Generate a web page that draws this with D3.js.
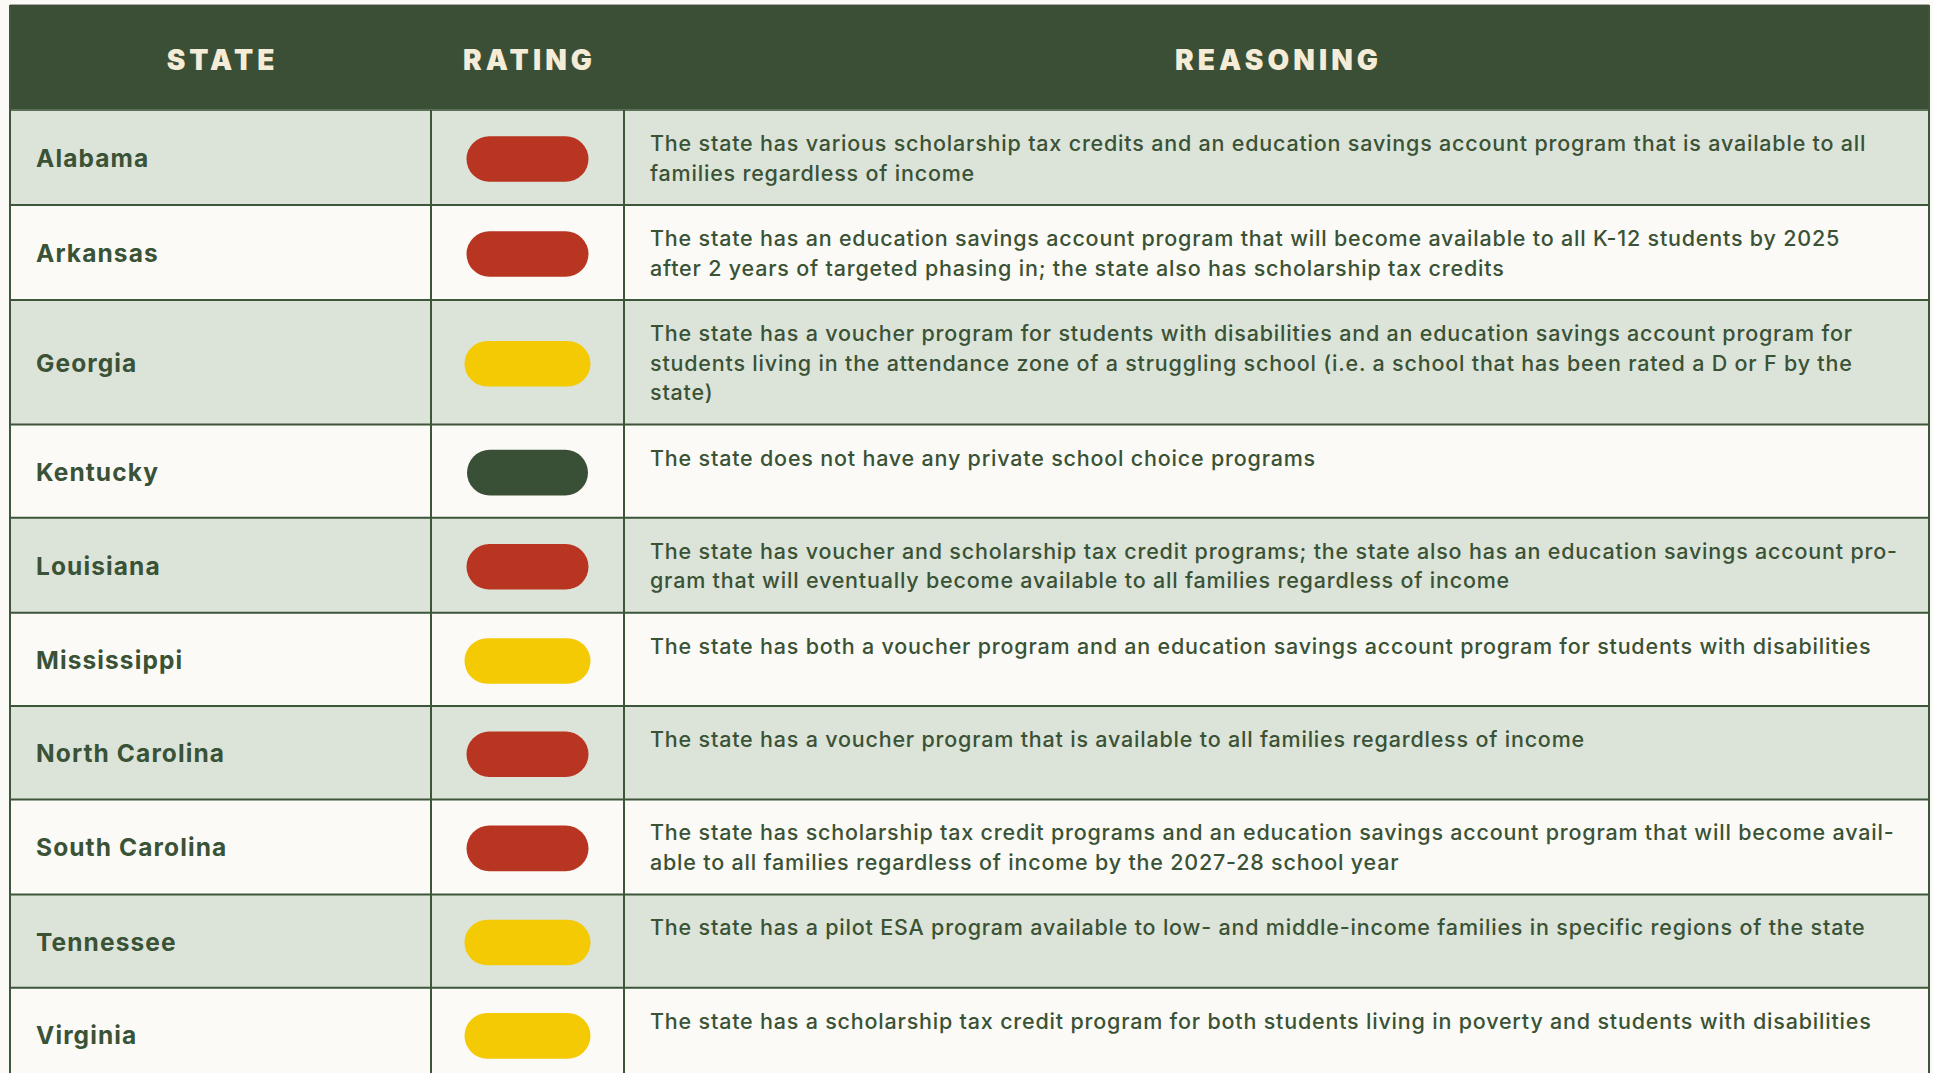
<!DOCTYPE html>
<html>
<head>
<meta charset="utf-8">
<script src="https://cdn.jsdelivr.net/npm/d3@7/dist/d3.min.js"></script>
<style>
  html, body { margin: 0; padding: 0; background: #fbfaf6; overflow: hidden; }
  svg { display: block; }
</style>
</head>
<body>
<svg id="chart" width="1933" height="1073"></svg>
<script>
// ---------- DATA ----------
const headers = ["STATE", "RATING", "REASONING"];
const states = ["Alabama", "Arkansas", "Georgia", "Kentucky", "Louisiana", "Mississippi",
  "North Carolina", "South Carolina", "Tennessee", "Virginia"];
const ratings = ["red", "red", "yellow", "green", "red", "yellow", "red", "red", "yellow", "yellow"];
const reasoning = [
  ["The state has various scholarship tax credits and an education savings account program that is available to all",
   "families regardless of income"],
  ["The state has an education savings account program that will become available to all K-12 students by 2025",
   "after 2 years of targeted phasing in; the state also has scholarship tax credits"],
  ["The state has a voucher program for students with disabilities and an education savings account program for",
   "students living in the attendance zone of a struggling school (i.e. a school that has been rated a D or F by the",
   "state)"],
  ["The state does not have any private school choice programs"],
  ["The state has voucher and scholarship tax credit programs; the state also has an education savings account pro-",
   "gram that will eventually become available to all families regardless of income"],
  ["The state has both a voucher program and an education savings account program for students with disabilities"],
  ["The state has a voucher program that is available to all families regardless of income"],
  ["The state has scholarship tax credit programs and an education savings account program that will become avail-",
   "able to all families regardless of income by the 2027-28 school year"],
  ["The state has a pilot ESA program available to low- and middle-income families in specific regions of the state"],
  ["The state has a scholarship tax credit program for both students living in poverty and students with disabilities"]
];
const ratingLevels = ["red", "yellow", "green"];

// ---------- STYLE ----------
const C = {
  bg: "#fbfaf6", header: "#3a4f35", headerText: "#f5ecd8",
  alt: "#dce3d9", text: "#3a5235", grid: "#3d563a"
};
const pillColor = d3.scaleOrdinal().domain(ratingLevels).range(["#b83522", "#f3ca04", "#3a5036"]);
const pillWidth = d3.scaleOrdinal().domain(ratingLevels).range([122, 126, 121]);

const svg = d3.select("#chart");
const W = 1933, H = 1073;
const left = 10, right = 1929;
const colEdges = [left, 431, 624, right];
const headerTop = 5, headerBottom = 110;
const lineH = 29.5;

// row layout
const rows = states.map((s, i) => ({ state: s, rating: ratings[i], lines: reasoning[i], i }));
let y0 = headerBottom;
rows.forEach(r => {
  r.h = Math.max(93.3, 36 + lineH * r.lines.length);
  r.y = y0; y0 += r.h;
});

svg.append("rect").attr("width", W).attr("height", H).attr("fill", C.bg);

// top hairline
svg.append("line").attr("x1", left).attr("x2", right).attr("y1", 4.5).attr("y2", 4.5)
  .attr("stroke", "#a9aca2").attr("stroke-width", 1);

// header
svg.append("rect").attr("x", left).attr("y", headerTop).attr("width", right - left)
  .attr("height", headerBottom - headerTop).attr("fill", C.header);

const hdrLS = 4.1;
svg.selectAll("text.hdr").data(headers).join("text")
  .attr("class", "hdr")
  .attr("x", (d, i) => (colEdges[i] + colEdges[i + 1]) / 2 + hdrLS / 2)
  .attr("y", 69.5)
  .attr("text-anchor", "middle")
  .attr("fill", C.headerText)
  .style("font-family", "Inter, 'Open Sans', sans-serif")
  .style("font-weight", 900)
  .style("font-size", "28px")
  .style("letter-spacing", hdrLS + "px")
  .text(d => d);

// rows
const g = svg.selectAll("g.row").data(rows).join("g").attr("class", "row")
  .attr("transform", d => `translate(0,${d.y})`);

g.append("rect").attr("x", left).attr("y", 0).attr("width", right - left)
  .attr("height", d => d.h).attr("fill", d => d.i % 2 === 0 ? C.alt : C.bg);

g.append("text")
  .attr("x", 36).attr("y", d => d.h / 2 + 9.5)
  .attr("fill", C.text)
  .style("font-family", "Inter, 'Open Sans', sans-serif")
  .style("font-weight", 700)
  .style("font-size", "24.5px")
  .style("letter-spacing", "1.1px")
  .text(d => d.state);

g.append("rect")
  .attr("x", d => (colEdges[1] + colEdges[2]) / 2 - pillWidth(d.rating) / 2)
  .attr("y", d => d.h / 2 + 1.5 - 22.8)
  .attr("width", d => pillWidth(d.rating))
  .attr("height", 45.6)
  .attr("rx", 22.8).attr("ry", 22.8)
  .attr("fill", d => pillColor(d.rating));

g.append("text")
  .attr("fill", C.text)
  .style("font-family", "Inter, 'Open Sans', sans-serif")
  .style("font-weight", 500)
  .style("font-size", "21.5px")
  .style("letter-spacing", "0.8px")
  .selectAll("tspan").data(d => d.lines).join("tspan")
  .attr("x", 650)
  .attr("y", (d, j) => 41 + j * lineH)
  .text(d => d);

// grid lines
const tableBottom = H + 10;
svg.selectAll("line.h").data(rows.slice(1)).join("line").attr("class", "h")
  .attr("x1", left).attr("x2", right).attr("y1", d => d.y).attr("y2", d => d.y)
  .attr("stroke", C.grid).attr("stroke-width", 2);
svg.append("line").attr("x1", left).attr("x2", right).attr("y1", headerBottom).attr("y2", headerBottom)
  .attr("stroke", "#5b6f56").attr("stroke-width", 2);
svg.selectAll("line.v").data(colEdges).join("line").attr("class", "v")
  .attr("x1", d => d).attr("x2", d => d)
  .attr("y1", (d, i) => (i === 0 || i === 3) ? headerTop : headerBottom)
  .attr("y2", tableBottom)
  .attr("stroke", C.grid).attr("stroke-width", 2);
</script>
</body>
</html>
